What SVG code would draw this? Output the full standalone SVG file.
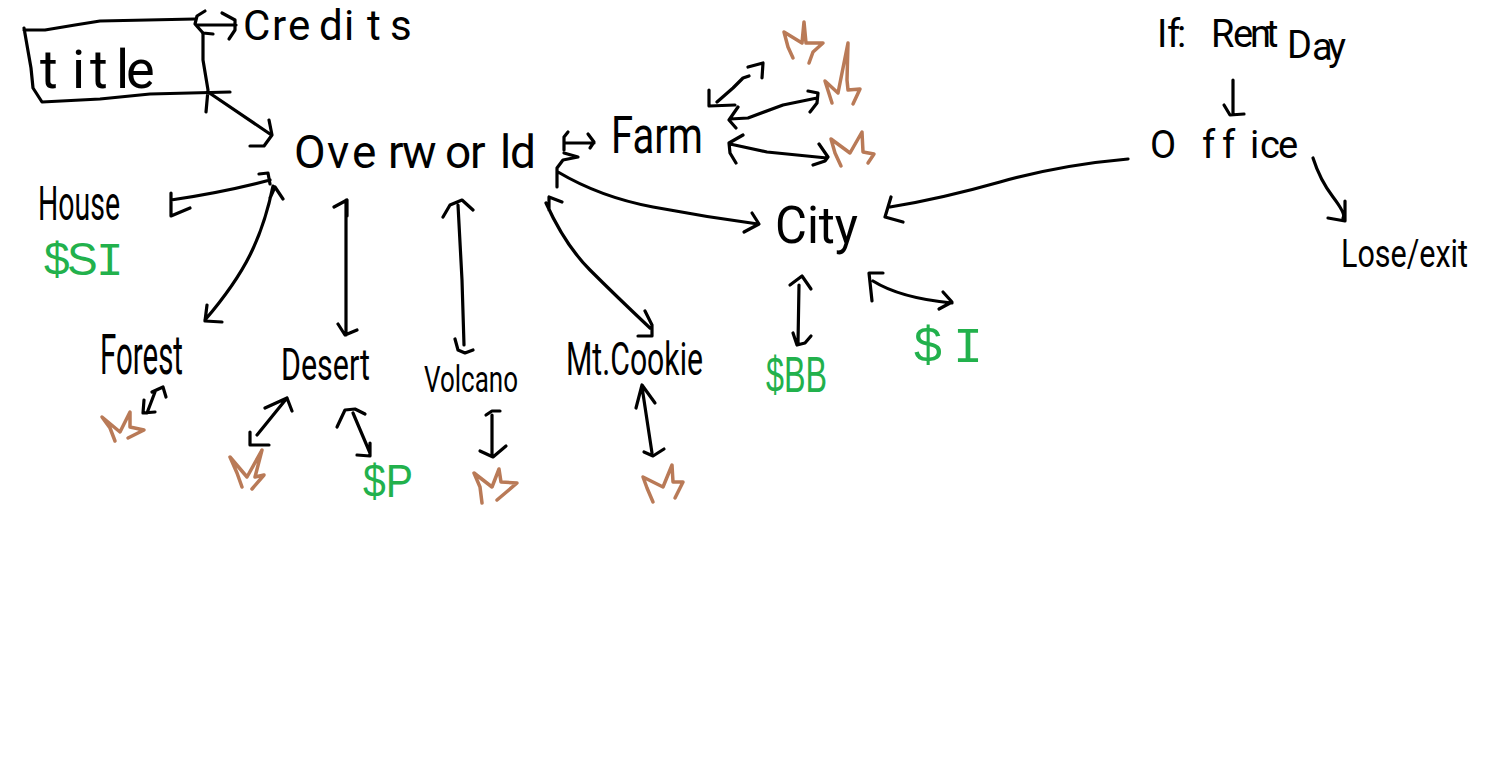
<svg xmlns="http://www.w3.org/2000/svg" width="1500" height="773" viewBox="0 0 1500 773">
<style>
.l{font-family:Roboto,"Liberation Sans",Arial,sans-serif;font-weight:400;fill:#000}
.g{font-family:"Liberation Sans",Arial,sans-serif;fill:#22b14c}
.m{font-family:"Liberation Mono",monospace}
.s{fill:none;stroke:#000;stroke-width:3.2;stroke-linecap:round;stroke-linejoin:round}
.c{fill:none;stroke:#b97a57;stroke-width:3.5;stroke-linecap:round;stroke-linejoin:round}
</style>
<rect width="1500" height="773" fill="#fff"/>
<g id="connectors" class="s">
<path d="M197 25H236M205 11L197 16L195 24L203 33L213 34M222 13L235 20L235 30L229 39"/>
<path d="M208 92L270 134M269 120L272 135L264 146L250 146"/>
<path d="M171 200Q225 192 270 180M171 193L171 216L190 208M259 174L268 173L270 184"/>
<path d="M273 186Q265 225 250 255T205 320M270 198L275 187L283 199M207 305L205 321L222 322"/>
<path d="M346 200V335M334 207L347 200L347 216M338 324L345 335L357 330"/>
<path d="M458 205L462 280L464 345M443 217L450 205L462 200L473 210M455 339L458 350L465 353L473 350"/>
<path d="M546 203Q565 245 590 270T650 328M562 202L549 197L549 210M645 311L652 325L652 336L638 336"/>
<path d="M564 143H594M568 132L564 137L564 150M588 134L594 142L590 148"/>
<path d="M558 172Q600 197 653 207T758 224M564 153L578 157L563 160L557 168L557 187M752 213L759 224L744 232"/>
<path d="M717 102L733 88L743 78L749 76M748 67L763 63L762 78M709 90L709 106L735 105"/>
<path d="M730 119L748 118L783 105L817 98M738 107L729 120L736 128M808 91L818 93L817 103L810 112"/>
<path d="M730 144L767 152L827 158M743 135L729 143L730 153L736 163M819 144L828 157L825 161L813 165"/>
<path d="M1128 159Q1060 165 1000 182T890 207M891 197L885 217L903 222"/>
<path d="M1233 80V113M1224 105L1230 115L1244 114"/>
<path d="M1313 158Q1320 180 1333 197T1343 218M1345 201L1345 221L1328 218"/>
<path d="M799 285L798 343M790 285L802 276L811 289M793 333L797 345L805 343L811 336"/>
<path d="M873 281Q900 298 952 303M883 273L869 273L872 301M943 292L952 302L939 309"/>
<path d="M155 392L147 413M152 392L163 387L166 397M144 400L143 413L155 412"/>
<path d="M257 435L287 398M265 408L287 398L292 411M250 432L250 445L269 445"/>
<path d="M353 413L370 453M337 427L345 410L355 409L365 414M370 443L370 456L357 455"/>
<path d="M492 415V455M486 415L492 411L500 411M480 451L493 457L506 446"/>
<path d="M642 387L652 453M636 408L642 385L655 403M644 452L653 456L664 449"/>
</g>
<g id="title">
<path class="s" d="M24 30L45 30L75 25L100 21L195 19M24 28L31 68L33 88L42 102L100 99L150 94L230 92M203 33L203 60L208 90L206 112"/>
<text class="l" x="40 72 90 116 126" y="88" font-size="54">title</text>
</g>
<g id="credits"><text class="l" x="243 272 288 319 344 367 390" y="40" font-size="42">Credits</text></g>
<g id="overworld"><text class="l" x="294 327 352 388 402 445 470 500 510" y="168" font-size="46">Overworld</text></g>
<g id="house"><text class="l" x="38" y="220" font-size="48" textLength="82" lengthAdjust="spacingAndGlyphs">House</text></g>
<g id="money-si"><text class="g" y="275" font-size="46"><tspan x="44 67">$S</tspan><tspan class="m" x="96">I</tspan></text></g>
<g id="forest"><text class="l" x="100" y="374" font-size="56" textLength="83" lengthAdjust="spacingAndGlyphs">Forest</text></g>
<g id="desert"><text class="l" x="281" y="380" font-size="44" textLength="89" lengthAdjust="spacingAndGlyphs">Desert</text></g>
<g id="volcano"><text class="l" x="424" y="392" font-size="36" textLength="94" lengthAdjust="spacingAndGlyphs">Volcano</text></g>
<g id="mt-cookie"><text class="l" x="566" y="375" font-size="46" textLength="137" lengthAdjust="spacingAndGlyphs">Mt.Cookie</text></g>
<g id="farm"><text class="l" x="611" y="153" font-size="52" textLength="92" lengthAdjust="spacingAndGlyphs">Farm</text></g>
<g id="city"><text class="l" x="775" y="243" font-size="52" textLength="83" lengthAdjust="spacingAndGlyphs">City</text></g>
<g id="money-bb"><text class="g" x="766" y="392" font-size="50" textLength="61" lengthAdjust="spacingAndGlyphs">$BB</text></g>
<g id="money-i"><text class="g" y="362" font-size="50"><tspan x="914">$ </tspan><tspan class="m" x="953">I</tspan></text></g>
<g id="money-p"><text class="g" x="363" y="497" font-size="46" textLength="50" lengthAdjust="spacingAndGlyphs">$P</text></g>
<g id="rent-day"><text class="l" x="1157 1167 1177 1190 1211 1233 1250 1266 1280 1287 1312 1328" y="47 47 47 47 47 47 47 47 47 58 60 60" font-size="38">If: Rent Day</text></g>
<g id="office"><text class="l" x="1150 1202 1222 1250 1260 1278" y="158" font-size="38">Office</text></g>
<g id="lose-exit"><text class="l" x="1341" y="267" font-size="38" textLength="127" lengthAdjust="spacingAndGlyphs">Lose/exit</text></g>
<g id="cow-farm-1"><path class="c" d="M793 58L788 47L784 32L802 43L804 22L806 43L823 43L813 52L809 63"/></g>
<g id="cow-farm-2"><path class="c" d="M832 103L825 81L838 93L848 43L847 80L848 90L860 89L853 104"/></g>
<g id="cow-farm-3"><path class="c" d="M841 166L835 153L831 139L850 153L862 132L863 152L874 154L868 163"/></g>
<g id="cow-forest"><path class="c" d="M115 441L110 428L102 417L120 432L130 412L130 427L144 430L128 438"/></g>
<g id="cow-desert"><path class="c" d="M242 487L237 473L230 457L247 477L262 450L255 477L264 475L252 489"/></g>
<g id="cow-volcano"><path class="c" d="M482 503L480 487L474 473L492 487L499 469L501 482L517 483L497 500"/></g>
<g id="cow-mt-cookie"><path class="c" d="M653 502L647 488L643 477L663 487L672 465L673 482L683 482L675 498"/></g>
</svg>
